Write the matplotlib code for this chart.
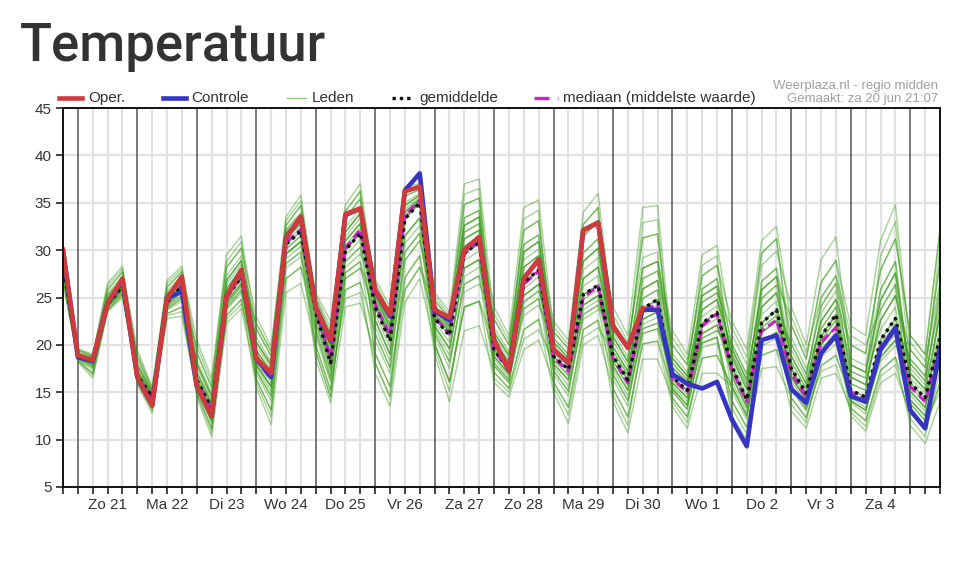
import matplotlib
matplotlib.use("Agg")
import matplotlib.pyplot as plt
import numpy as np
from matplotlib.lines import Line2D

# ---------------- data (6-hourly, from Sat 20 Jun 18:00 to Sun 5 Jul 12:00) ----------------
day_labels = ["Zo 21", "Ma 22", "Di 23", "Wo 24", "Do 25", "Vr 26", "Za 27",
              "Zo 28", "Ma 29", "Di 30", "Wo 1", "Do 2", "Vr 3", "Za 4"]

oper = [30.0, 18.9, 18.4, 24.4, 27.0, 16.6, 13.6, 24.9, 27.2, 15.7, 12.5, 25.1, 27.9, 18.6,
        17.0, 31.3, 33.5, 24.0, 20.5, 33.8, 34.4, 25.8, 23.2, 36.2, 36.7, 23.7, 22.9, 30.0,
        31.4, 20.5, 17.3, 27.0, 29.0, 19.5, 18.1, 32.1, 32.9, 22.0, 19.7, 23.9]

controle = [30.0, 18.7, 18.3, 24.4, 26.8, 16.6, 13.6, 25.0, 25.6, 15.7, 12.5, 25.1, 27.9, 18.6,
            16.6, 31.3, 33.5, 24.0, 20.4, 33.7, 34.4, 25.8, 23.0, 36.3, 38.1, 23.6, 22.6, 30.0,
            31.3, 20.5, 17.3, 27.0, 29.0, 19.5, 18.1, 32.1, 32.9, 22.0, 19.7, 23.7, 23.7, 16.9,
            15.9, 15.4, 16.1, 12.1, 9.3, 20.5, 21.0, 15.3, 13.9, 19.1, 21.0, 14.6, 14.0, 19.5,
            21.8, 13.1, 11.2, 19.5]

gemiddelde = [28.5, 18.8, 18.3, 24.3, 26.2, 16.8, 14.5, 24.5, 26.2, 16.3, 13.3, 25.0, 27.2, 18.5,
              16.6, 30.6, 32.0, 23.5, 18.1, 30.0, 31.8, 24.0, 20.4, 33.3, 35.0, 22.8, 21.0, 29.7,
              30.8, 19.5, 17.5, 26.6, 27.9, 18.8, 17.4, 25.3, 26.3, 18.8, 16.3, 23.8, 24.8, 16.6,
              15.2, 22.3, 23.4, 17.7, 14.2, 22.3, 23.7, 17.5, 14.9, 20.9, 23.2, 15.2, 14.5, 20.5,
              22.8, 16.0, 14.4, 20.8]

mediaan = [28.8, 18.8, 18.3, 24.3, 26.3, 16.7, 14.4, 24.5, 26.3, 16.2, 13.2, 25.0, 27.3, 18.4,
           16.4, 30.8, 32.2, 23.7, 18.6, 30.2, 32.2, 24.3, 21.0, 33.6, 35.3, 22.9, 21.2, 29.6,
           30.9, 19.4, 17.3, 26.4, 27.8, 18.7, 17.2, 25.0, 26.2, 18.6, 16.0, 23.6, 24.3, 16.4,
           15.0, 22.0, 23.3, 17.4, 14.0, 21.5, 22.6, 17.0, 14.5, 20.3, 21.8, 15.0, 14.2, 19.8,
           21.4, 15.6, 14.0, 20.0]

lid01 = [28.5, 19.0, 18.4, 24.7, 26.6, 16.6, 14.2, 24.2, 25.6, 18.0, 14.6, 26.8, 28.9, 21.7, 18.8, 32.6, 34.7,
         25.5, 22.5, 34.8, 37.0, 26.1, 22.9, 35.7, 36.4, 23.9, 22.0, 32.6, 33.5, 20.4, 18.2, 28.2, 29.4,
         21.4, 19.6, 31.4, 33.1, 24.0, 21.0, 34.5, 34.7, 18.6, 16.7, 25.2, 26.2, 18.7, 15.3, 24.0, 25.5,
         17.5, 14.9, 20.9, 23.2, 14.7, 13.8, 19.6, 21.6, 14.2, 12.5, 18.1]
lid02 = [28.8, 18.8, 18.3, 24.3, 26.2, 17.9, 14.9, 25.4, 27.0, 19.2, 15.5, 28.2, 30.2, 23.0, 19.8, 33.5, 35.8,
         24.9, 21.2, 33.4, 35.4, 25.2, 21.8, 34.7, 35.8, 25.5, 23.5, 37.0, 37.5, 22.7, 20.0, 32.1, 33.1,
         20.3, 18.6, 28.8, 30.2, 19.8, 17.2, 25.9, 26.8, 16.6, 15.2, 22.3, 23.4, 16.7, 13.4, 21.3, 22.5,
         20.1, 16.9, 24.1, 26.5, 20.0, 19.1, 27.9, 31.2, 21.0, 19.0, 32.1]
lid03 = [28.1, 18.6, 17.6, 24.0, 25.7, 16.1, 13.3, 23.3, 24.0, 14.5, 10.3, 22.3, 23.8, 16.4, 13.1, 27.0, 28.2,
         21.5, 16.4, 27.6, 28.8, 22.6, 19.0, 31.5, 33.4, 22.8, 21.0, 29.7, 30.8, 18.1, 16.3, 23.8, 24.9,
         16.1, 13.4, 21.6, 22.6, 14.0, 10.7, 18.5, 18.5, 14.4, 12.4, 18.6, 18.9, 15.6, 12.5, 20.4, 21.3,
         16.6, 14.2, 20.0, 22.0, 15.2, 14.5, 20.5, 22.8, 17.0, 15.3, 23.1]
lid04 = [29.1, 19.4, 18.8, 25.8, 27.7, 19.5, 15.5, 26.8, 28.3, 19.2, 15.5, 28.2, 30.2, 20.3, 17.9, 31.8, 33.5,
         23.9, 19.0, 31.0, 32.8, 24.0, 20.4, 33.3, 35.0, 22.0, 19.6, 28.1, 29.0, 18.1, 16.3, 23.8, 24.9,
         18.0, 16.3, 24.2, 25.2, 18.8, 16.3, 23.8, 24.8, 17.6, 16.0, 23.7, 24.8, 19.6, 16.3, 25.8, 27.2,
         22.1, 18.5, 26.6, 28.9, 22.0, 21.0, 31.0, 34.8, 19.5, 17.6, 28.7]
lid05 = [27.7, 18.7, 17.9, 24.1, 26.0, 16.8, 14.5, 24.5, 26.2, 17.1, 13.9, 25.9, 28.1, 18.5, 16.6, 30.6, 32.0,
         22.5, 17.3, 28.8, 30.3, 21.2, 17.6, 29.8, 31.8, 20.1, 16.1, 24.0, 24.6, 16.0, 14.5, 19.5, 20.5,
         16.1, 13.4, 21.6, 22.6, 16.9, 14.1, 21.7, 22.3, 16.0, 14.4, 21.2, 22.1, 17.7, 14.2, 22.3, 23.7,
         16.6, 14.2, 20.0, 22.0, 14.1, 13.1, 18.7, 20.5, 12.9, 11.0, 16.0]
lid06 = [28.5, 19.1, 18.6, 25.2, 27.0, 17.3, 14.7, 25.0, 26.6, 16.3, 13.3, 25.0, 27.2, 17.9, 15.6, 29.6, 30.9,
         21.5, 16.4, 27.6, 28.8, 19.1, 15.6, 27.1, 29.4, 21.3, 18.2, 26.4, 27.3, 19.5, 17.5, 26.6, 27.9,
         19.5, 18.0, 27.0, 28.2, 20.9, 18.2, 28.1, 28.8, 20.0, 17.9, 27.3, 28.4, 22.5, 19.5, 31.0, 32.5,
         22.1, 18.5, 26.6, 28.9, 17.9, 17.1, 24.7, 27.6, 17.0, 15.3, 23.1]
lid07 = [27.1, 18.2, 16.5, 23.5, 25.0, 16.1, 13.3, 23.3, 24.0, 15.6, 12.1, 23.9, 25.8, 17.9, 15.6, 29.6, 30.9,
         23.5, 18.1, 30.0, 31.8, 24.6, 21.1, 34.0, 35.4, 23.9, 22.0, 32.6, 33.5, 20.4, 18.2, 28.2, 29.4,
         18.8, 17.4, 25.3, 26.3, 17.8, 15.2, 22.7, 23.5, 15.4, 13.6, 20.2, 20.8, 14.1, 11.3, 18.9, 19.5,
         13.0, 11.2, 16.5, 17.0, 13.3, 12.0, 17.3, 18.7, 14.2, 12.5, 18.1]
lid08 = [29.6, 19.1, 18.6, 25.2, 27.0, 17.3, 14.7, 25.0, 26.6, 16.3, 13.3, 25.0, 27.2, 19.4, 17.2, 31.2, 32.8,
         24.3, 19.9, 31.9, 33.9, 27.0, 24.0, 36.7, 37.0, 24.7, 22.8, 34.8, 35.5, 21.3, 18.9, 29.8, 30.9,
         22.5, 20.5, 34.0, 36.0, 22.4, 19.6, 31.3, 31.7, 18.6, 16.7, 25.2, 26.2, 18.7, 15.3, 24.0, 25.5,
         18.8, 15.9, 22.5, 24.8, 15.2, 14.5, 20.5, 22.8, 15.1, 13.4, 19.4]
lid09 = [26.5, 18.4, 17.0, 23.7, 25.4, 16.4, 13.8, 23.8, 24.9, 15.9, 12.7, 24.5, 26.5, 17.3, 14.6, 28.6, 29.8,
         20.0, 15.2, 25.8, 26.6, 17.0, 13.5, 24.5, 27.0, 20.1, 16.1, 24.0, 24.6, 18.8, 16.9, 25.2, 26.4,
         18.8, 17.4, 25.3, 26.3, 19.8, 17.2, 25.9, 26.8, 16.6, 15.2, 22.3, 23.4, 16.7, 13.4, 21.3, 22.5,
         15.7, 13.4, 19.1, 20.7, 14.7, 13.8, 19.6, 21.6, 16.0, 14.4, 20.8]
lid10 = [28.8, 18.8, 18.3, 24.3, 26.2, 16.6, 14.2, 24.2, 25.6, 15.6, 12.1, 23.9, 25.8, 17.9, 15.6, 29.6, 30.9,
         23.5, 18.1, 30.0, 31.8, 24.6, 21.1, 34.0, 35.4, 22.8, 21.0, 29.7, 30.8, 22.7, 20.0, 32.1, 33.1,
         20.3, 18.6, 28.8, 30.2, 18.8, 16.3, 23.8, 24.8, 15.4, 13.6, 20.2, 20.8, 14.1, 11.3, 18.9, 19.5,
         15.7, 13.4, 19.1, 20.7, 13.3, 12.0, 17.3, 18.7, 11.5, 9.6, 14.0]
lid11 = [28.1, 19.0, 18.4, 24.7, 26.6, 17.9, 14.9, 25.4, 27.0, 17.1, 13.9, 25.9, 28.1, 20.3, 17.9, 31.8, 33.5,
         23.9, 19.0, 31.0, 32.8, 22.6, 19.0, 31.5, 33.4, 21.3, 18.2, 26.4, 27.3, 17.1, 15.4, 21.6, 22.7,
         17.3, 15.1, 23.2, 24.2, 15.4, 12.4, 20.1, 20.4, 13.5, 11.2, 17.0, 17.0, 15.6, 12.5, 20.4, 21.3,
         17.5, 14.9, 20.9, 23.2, 16.6, 15.8, 22.6, 25.2, 18.0, 16.2, 25.3]
lid12 = [28.5, 18.7, 17.9, 24.1, 26.0, 16.8, 14.5, 24.5, 26.2, 18.0, 14.6, 26.8, 28.9, 19.4, 17.2, 31.2, 32.8,
         23.5, 18.1, 30.0, 31.8, 25.2, 21.8, 34.7, 35.8, 23.3, 21.5, 31.2, 32.1, 24.0, 21.0, 34.5, 35.3,
         21.4, 19.6, 31.4, 33.1, 20.9, 18.2, 28.1, 28.8, 21.5, 19.0, 29.5, 30.5, 21.1, 17.9, 28.4, 29.9,
         24.0, 20.0, 29.0, 31.4, 17.9, 17.1, 24.7, 27.6, 16.0, 14.4, 20.8]
lid13 = [29.1, 19.0, 18.4, 24.7, 26.6, 16.4, 13.8, 23.8, 24.9, 15.0, 11.2, 23.1, 24.8, 15.5, 11.6, 25.5, 26.5,
         20.0, 15.2, 25.8, 26.6, 21.2, 17.6, 29.8, 31.8, 22.0, 19.6, 28.1, 29.0, 19.5, 17.5, 26.6, 27.9,
         18.0, 16.3, 24.2, 25.2, 16.9, 14.1, 21.7, 22.3, 16.0, 14.4, 21.2, 22.1, 17.7, 14.2, 22.3, 23.7,
         20.1, 16.9, 24.1, 26.5, 16.6, 15.8, 22.6, 25.2, 18.0, 16.2, 25.3]
lid14 = [27.7, 18.7, 17.9, 24.1, 26.0, 18.7, 15.2, 26.1, 27.7, 20.5, 16.5, 29.5, 31.5, 21.7, 18.8, 32.6, 34.7,
         24.3, 19.9, 31.9, 33.9, 24.0, 20.4, 33.3, 35.0, 23.3, 21.5, 31.2, 32.1, 21.3, 18.9, 29.8, 30.9,
         19.5, 18.0, 27.0, 28.2, 17.8, 15.2, 22.7, 23.5, 17.6, 16.0, 23.7, 24.8, 19.6, 16.3, 25.8, 27.2,
         16.6, 14.2, 20.0, 22.0, 12.5, 10.9, 16.0, 17.0, 12.9, 11.0, 16.0]
lid15 = [30.0, 19.6, 19.0, 26.5, 28.3, 18.7, 15.2, 26.1, 27.7, 18.0, 14.6, 26.8, 28.9, 18.5, 16.6, 30.6, 32.0,
         22.5, 17.3, 28.8, 30.3, 24.6, 21.1, 34.0, 35.4, 23.9, 22.0, 32.6, 33.5, 18.8, 16.9, 25.2, 26.4,
         17.3, 15.1, 23.2, 24.2, 19.8, 17.2, 25.9, 26.8, 20.0, 17.9, 27.3, 28.4, 19.6, 16.3, 25.8, 27.2,
         18.8, 15.9, 22.5, 24.8, 20.0, 19.1, 27.9, 31.2, 21.0, 19.0, 32.1]
lid16 = [27.1, 18.6, 17.6, 24.0, 25.7, 15.8, 12.8, 22.8, 23.0, 15.0, 11.2, 23.1, 24.8, 17.3, 14.6, 28.6, 29.8,
         18.5, 13.9, 24.0, 24.4, 19.1, 15.6, 27.1, 29.4, 19.0, 14.0, 21.5, 22.0, 17.1, 15.4, 21.6, 22.7,
         15.0, 11.7, 20.0, 21.0, 15.4, 12.4, 20.1, 20.4, 15.4, 13.6, 20.2, 20.8, 12.5, 10.0, 17.5, 17.7,
         14.4, 12.3, 17.8, 18.9, 14.1, 13.1, 18.7, 20.5, 15.1, 13.4, 19.4]
lid17 = [29.6, 19.4, 18.8, 25.8, 27.7, 17.9, 14.9, 25.4, 27.0, 17.1, 13.9, 25.9, 28.1, 20.3, 17.9, 31.8, 33.5,
         24.9, 21.2, 33.4, 35.4, 25.2, 21.8, 34.7, 35.8, 24.7, 22.8, 34.8, 35.5, 21.3, 18.9, 29.8, 30.9,
         19.5, 18.0, 27.0, 28.2, 20.9, 18.2, 28.1, 28.8, 17.6, 16.0, 23.7, 24.8, 17.7, 14.2, 22.3, 23.7,
         16.6, 14.2, 20.0, 22.0, 16.6, 15.8, 22.6, 25.2, 19.5, 17.6, 28.7]
lid18 = [28.5, 18.4, 17.0, 23.7, 25.4, 16.6, 14.2, 24.2, 25.6, 16.3, 13.3, 25.0, 27.2, 17.9, 15.6, 29.6, 30.9,
         23.9, 19.0, 31.0, 32.8, 22.6, 19.0, 31.5, 33.4, 22.0, 19.6, 28.1, 29.0, 19.5, 17.5, 26.6, 27.9,
         18.0, 16.3, 24.2, 25.2, 18.8, 16.3, 23.8, 24.8, 16.0, 14.4, 21.2, 22.1, 16.7, 13.4, 21.3, 22.5,
         17.5, 14.9, 20.9, 23.2, 14.1, 13.1, 18.7, 20.5, 15.1, 13.4, 19.4]
lid19 = [28.1, 18.8, 18.3, 24.3, 26.2, 17.3, 14.7, 25.0, 26.6, 15.9, 12.7, 24.5, 26.5, 16.4, 13.1, 27.0, 28.2,
         23.5, 18.1, 30.0, 31.8, 26.1, 22.9, 35.7, 36.4, 23.3, 21.5, 31.2, 32.1, 18.8, 16.9, 25.2, 26.4,
         20.3, 18.6, 28.8, 30.2, 22.4, 19.6, 31.3, 31.7, 18.6, 16.7, 25.2, 26.2, 18.7, 15.3, 24.0, 25.5,
         18.8, 15.9, 22.5, 24.8, 17.9, 17.1, 24.7, 27.6, 17.0, 15.3, 23.1]
lid20 = [28.8, 18.7, 17.9, 24.1, 26.0, 16.8, 14.5, 24.5, 26.2, 15.9, 12.7, 24.5, 26.5, 19.4, 17.2, 31.2, 32.8,
         24.3, 19.9, 31.9, 33.9, 24.0, 20.4, 33.3, 35.0, 20.1, 16.1, 24.0, 24.6, 20.4, 18.2, 28.2, 29.4,
         18.8, 17.4, 25.3, 26.3, 17.8, 15.2, 22.7, 23.5, 14.4, 12.4, 18.6, 18.9, 15.6, 12.5, 20.4, 21.3,
         14.4, 12.3, 17.8, 18.9, 14.7, 13.8, 19.6, 21.6, 14.2, 12.5, 18.1]
lid21 = [28.7, 18.9, 18.4, 25.0, 26.8, 16.7, 14.3, 24.7, 26.4, 15.8, 12.4, 24.7, 26.9, 19.0, 16.9, 31.5, 33.1,
         22.0, 16.8, 30.5, 32.3, 24.9, 21.5, 35.0, 36.0, 20.9, 17.5, 27.2, 28.2, 20.0, 17.9, 30.6, 31.6,
         18.4, 16.8, 23.7, 24.7, 20.4, 17.7, 24.9, 25.8, 15.1, 13.2, 25.9, 27.0, 18.2, 14.7, 21.8, 23.1,
         17.1, 14.5, 23.3, 25.7, 17.2, 16.5, 21.6, 24.0, 14.7, 13.0, 24.2]
lid22 = [27.5, 18.6, 17.8, 23.9, 25.6, 18.2, 15.0, 25.2, 26.8, 16.7, 13.6, 27.3, 29.4, 17.0, 14.1, 30.1, 31.5,
         24.5, 20.3, 31.4, 33.4, 21.9, 18.3, 28.9, 31.0, 23.6, 21.8, 30.4, 31.5, 18.5, 16.6, 23.1, 24.2,
         20.7, 19.0, 26.2, 27.3, 16.4, 13.5, 22.2, 22.9, 18.1, 16.3, 23.0, 24.1, 15.1, 12.1, 26.7, 28.1,
         20.8, 17.5, 21.7, 24.0, 14.9, 14.1, 19.2, 21.1, 18.5, 16.7, 30.4]
lid23 = [29.0, 19.2, 18.7, 24.5, 26.4, 16.5, 14.0, 23.7, 24.6, 19.9, 16.0, 28.8, 30.9, 19.9, 17.6, 32.1, 33.9,
         23.0, 17.7, 28.2, 29.6, 26.6, 23.5, 34.3, 35.6, 23.1, 21.3, 33.4, 34.2, 20.9, 18.6, 33.3, 34.2,
         16.9, 14.6, 24.8, 25.8, 21.4, 18.7, 32.9, 33.2, 16.3, 14.8, 20.7, 21.5, 20.1, 16.9, 24.9, 26.3,
         23.0, 19.2, 25.0, 27.3, 18.6, 17.8, 25.8, 28.8, 16.5, 14.9, 20.1]
lid24 = [28.3, 18.9, 18.4, 24.2, 26.1, 16.3, 13.7, 24.0, 25.2, 15.4, 11.8, 22.7, 24.3, 19.0, 16.9, 30.1, 31.5,
         19.3, 14.5, 27.0, 28.1, 23.3, 19.7, 33.6, 35.2, 21.7, 18.9, 28.9, 29.9, 17.8, 16.0, 24.5, 25.7,
         19.2, 17.7, 29.7, 31.2, 18.3, 15.7, 27.0, 27.8, 19.1, 17.1, 28.4, 29.4, 16.1, 12.9, 21.8, 23.1,
         15.3, 13.1, 19.6, 21.3, 13.9, 12.7, 20.1, 22.2, 18.5, 16.7, 24.2]
lid25 = [29.8, 19.0, 18.5, 25.4, 27.3, 17.1, 14.6, 24.3, 25.9, 16.1, 13.0, 25.5, 27.6, 22.3, 19.3, 33.1, 35.2,
         24.1, 19.4, 32.4, 34.4, 24.3, 20.8, 30.7, 32.6, 24.2, 22.3, 35.9, 36.5, 19.2, 17.2, 27.4, 28.6,
         21.9, 20.0, 29.7, 31.2, 19.3, 16.8, 23.3, 24.2, 18.1, 16.3, 24.5, 25.5, 21.8, 18.7, 29.7, 31.2,
         19.5, 16.4, 25.0, 27.3, 21.0, 20.0, 23.7, 26.4, 13.8, 12.0, 18.8]
lid26 = [27.9, 18.5, 17.4, 24.1, 25.8, 19.1, 15.4, 25.7, 27.3, 15.4, 11.8, 24.2, 26.2, 17.6, 15.1, 28.1, 29.3,
         23.7, 18.5, 29.4, 31.1, 20.5, 17.0, 25.8, 28.2, 22.4, 20.3, 31.9, 32.8, 21.8, 19.3, 29.0, 30.1,
         17.7, 15.7, 22.7, 23.7, 23.2, 20.3, 29.2, 29.8, 15.7, 14.0, 21.8, 22.8, 19.1, 15.8, 23.2, 24.6,
         16.2, 13.8, 20.5, 22.6, 15.9, 15.2, 25.8, 28.8, 15.6, 13.9, 21.9]
lid27 = [28.7, 18.7, 18.1, 24.5, 26.4, 17.6, 14.8, 26.5, 28.0, 17.6, 14.3, 25.5, 27.6, 16.0, 12.4, 29.1, 30.4,
         25.2, 21.8, 34.1, 36.2, 25.5, 22.2, 33.6, 35.2, 19.6, 15.1, 25.6, 26.4, 23.3, 20.5, 30.6, 31.6,
         19.9, 18.3, 27.9, 29.2, 17.4, 14.6, 21.2, 21.7, 17.1, 15.6, 24.5, 25.5, 17.2, 13.8, 24.9, 26.3,
         18.2, 15.4, 20.5, 22.6, 14.4, 13.4, 18.3, 19.9, 20.3, 18.3, 26.5]
lid28 = [26.8, 18.3, 16.8, 23.6, 25.2, 16.7, 14.3, 24.0, 25.2, 18.4, 14.9, 26.4, 28.5, 20.8, 18.2, 30.9, 32.4,
         21.0, 16.0, 24.9, 25.5, 18.1, 14.5, 28.9, 31.0, 25.1, 23.1, 31.9, 32.8, 16.5, 15.0, 20.6, 21.6,
         18.4, 16.8, 32.7, 34.5, 14.7, 11.5, 21.2, 21.7, 14.0, 11.8, 19.7, 20.2, 13.3, 10.6, 19.9, 20.7,
         15.3, 13.1, 17.2, 17.9, 12.9, 11.4, 16.7, 17.9, 12.2, 10.3, 17.4]
lid29 = [29.3, 19.5, 18.9, 26.2, 28.0, 16.0, 13.1, 23.1, 23.5, 14.8, 10.8, 23.7, 25.5, 18.2, 16.1, 31.5, 33.1,
         19.3, 14.5, 27.0, 28.1, 25.5, 22.2, 36.2, 36.7, 23.6, 21.8, 33.4, 34.2, 17.8, 16.0, 25.9, 27.2,
         15.6, 12.6, 20.8, 21.8, 19.3, 16.8, 27.0, 27.8, 20.8, 18.4, 25.9, 27.0, 20.1, 16.9, 29.7, 31.2,
         18.2, 15.4, 21.7, 24.0, 17.2, 16.5, 29.4, 33.0, 17.5, 15.8, 26.5]
lid30 = [27.5, 19.0, 18.5, 24.5, 26.4, 16.5, 14.0, 24.7, 26.4, 16.7, 13.6, 24.2, 26.2, 22.3, 19.3, 32.1, 33.9,
         23.7, 18.5, 34.1, 36.2, 18.1, 14.5, 25.8, 28.2, 24.2, 22.3, 30.4, 31.5, 20.0, 17.9, 24.5, 25.7,
         20.7, 19.0, 32.7, 34.5, 18.3, 15.7, 24.9, 25.8, 15.1, 13.2, 20.7, 21.5, 19.1, 15.8, 26.7, 28.1,
         13.7, 11.8, 18.7, 20.1, 15.9, 15.2, 23.7, 26.4, 13.8, 12.0, 15.0]

leden = [lid01, lid02, lid03, lid04, lid05, lid06, lid07, lid08, lid09, lid10,
         lid11, lid12, lid13, lid14, lid15, lid16, lid17, lid18, lid19, lid20,
         lid21, lid22, lid23, lid24, lid25, lid26, lid27, lid28, lid29, lid30]

# ---------------- figure ----------------
W, H = 970, 575
fig = plt.figure(figsize=(W / 100, H / 100), dpi=100)
fig.patch.set_facecolor("white")

FONT = ["Liberation Sans", "DejaVu Sans"]
TXT = "#333333"
C_OPER = "#cf3b3b"
C_CTRL = "#3535c2"
C_LID = "#389a16"
C_MEAN = "#111111"
C_MED = "#cc22cc"


def fx(px):
    return px / W


def fy(py):
    return 1 - py / H


ax = fig.add_axes([fx(63), fy(487), (940 - 63) / W, (487 - 108) / H])

x_all = np.arange(len(controle))
x_oper = np.arange(len(oper))

# grid
for yv in range(5, 46, 5):
    ax.axhline(yv, color="#e2e2e2", lw=1.6, zorder=0)
for i in x_all:
    if (i - 1) % 4 == 0:
        ax.axvline(i, color="#555555", lw=1.1, zorder=0.5)
    else:
        ax.axvline(i, color="#e2e2e2", lw=1.6, zorder=0)

# ensemble members
for m in leden:
    ax.plot(x_all, m, color=C_LID, lw=1.05, alpha=0.42, zorder=2)

ax.plot(x_all, mediaan, color=C_MED, lw=2.2, dashes=(3, 1.5), zorder=3)
ax.plot(x_all, gemiddelde, color=C_MEAN, lw=2.4, dashes=(1, 1.2), zorder=4)
ax.plot(x_all, controle, color=C_CTRL, lw=3.3, zorder=5, solid_joinstyle="round")
ax.plot(x_oper, oper, color=C_OPER, lw=3.3, zorder=6, solid_joinstyle="round")

ax.set_xlim(0, len(controle) - 1)
ax.set_ylim(5, 45)
ax.set_yticks(range(5, 46, 5))
ax.set_yticklabels([str(v) for v in range(5, 46, 5)], fontfamily=FONT, fontsize=11, color=TXT)

label_pos = [3 + 4 * k for k in range(len(day_labels))]
xt_labels = [day_labels[label_pos.index(i)] if i in label_pos else "" for i in x_all]
ax.set_xticks(x_all)
ax.set_xticklabels(xt_labels, fontfamily=FONT, fontsize=11, color=TXT)
ax.tick_params(axis="both", direction="out", length=5, width=1.2, color="#222222", pad=3)

for s in ax.spines.values():
    s.set_color("#111111")
    s.set_linewidth(1.4)
    s.set_zorder(7)

# title
fig.text(fx(20), fy(61), "Temperatuur", fontfamily=["Roboto", "DejaVu Sans"],
         fontweight="medium", fontsize=38, color="#333333", va="baseline", ha="left")

# credits
fig.text(fx(938), fy(86), "Weerplaza.nl - regio midden", fontfamily=FONT,
         fontsize=9.5, color="#a0a0a0", ha="right", va="center")
fig.text(fx(938), fy(99), "Gemaakt: za 20 jun 21:07", fontfamily=FONT,
         fontsize=9.5, color="#a0a0a0", ha="right", va="center")

# legend (placed by hand to match the original layout)
LY = 98
legend_items = [
    (59, 82, 88, "Oper.", dict(color=C_OPER, lw=3.3)),
    (163, 186, 191, "Controle", dict(color=C_CTRL, lw=3.3)),
    (287, 306, 312, "Leden", dict(color=C_LID, lw=1.0, alpha=0.55)),
    (392, 413, 419, "gemiddelde", dict(color=C_MEAN, lw=2.4, dashes=(1, 1.2))),
    (534, 558, 563, "mediaan (middelste waarde)", dict(color=C_MED, lw=2.4, dashes=(4.5, 2.5, 0.8, 6))),
]
for x0, x1, xt, name, style in legend_items:
    fig.add_artist(Line2D([fx(x0), fx(x1)], [fy(LY), fy(LY)], transform=fig.transFigure, **style))
    fig.text(fx(xt), fy(LY), name, fontfamily=FONT, fontsize=11, color=TXT, ha="left", va="center")

fig.savefig("out.png", dpi=100, facecolor="white")
